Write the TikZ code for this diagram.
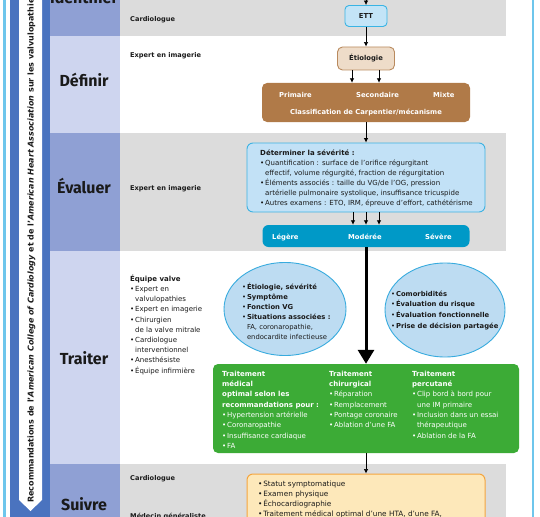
\documentclass[tikz,border=0pt]{standalone}
\usepackage{fontspec}
\setmainfont{DejaVu Sans}
\newfontfamily\titlefont{Fira Sans}
\usepackage{xcolor}
\usetikzlibrary{shapes,arrows,arrows.meta,positioning}

\definecolor{lineblue}{HTML}{6EC6EC}
\definecolor{bandblue}{HTML}{4A73BF}
\definecolor{labdark}{HTML}{8FA0D4}
\definecolor{labpale}{HTML}{CED5EF}
\definecolor{rowgray}{HTML}{DCDCDC}
\definecolor{ettfill}{HTML}{C3E4F7}
\definecolor{ettdraw}{HTML}{3AB4E4}
\definecolor{etiofill}{HTML}{EEDCC9}
\definecolor{etiodraw}{HTML}{B98A5E}
\definecolor{classbrown}{HTML}{B07A48}
\definecolor{sevfill}{HTML}{C2E1F6}
\definecolor{sevdraw}{HTML}{3DB2E2}
\definecolor{sevbar}{HTML}{0099C7}
\definecolor{ellfill}{HTML}{BDDCF2}
\definecolor{elldraw}{HTML}{38ABDE}
\definecolor{traitgreen}{HTML}{3CAB36}
\definecolor{yelfill}{HTML}{FDE8BA}
\definecolor{yeldraw}{HTML}{F4A53F}
\definecolor{ink}{HTML}{1A1A1A}

\newcommand{\bul}{\textbullet\hspace{0.8pt}}
\newcommand{\bulind}{\phantom{\textbullet}\hspace{0.8pt}}
\newcommand{\fl}{\rule{0pt}{7pt}}

\begin{document}
\begin{tikzpicture}[x=1pt, y=-1pt,
    every node/.style={inner sep=0pt, text=ink},
    title/.style={anchor=base, font=\titlefont\fontsize{16}{16}\selectfont\bfseries},
    who/.style={anchor=base west, font=\fontsize{6.6}{9}\selectfont\bfseries},
    list/.style={anchor=north west, align=left, font=\fontsize{7}{10}\selectfont},
    lab/.style={anchor=base west, text=white, font=\fontsize{6.8}{7}\selectfont\bfseries},
    arr/.style={-{Latex[length=4.5pt,width=4.5pt]}, line width=0.7pt}]
\useasboundingbox (0,0) rectangle (540,516);

% side bands
\fill[lineblue] (3,-5) rectangle (5.5,521);
\fill[lineblue] (531.5,-5) rectangle (534,521);
\fill[bandblue] (10,-5) rectangle (50,521);
\fill[white] (19,-5) -- (42,-5) -- (42,500) -- (30.5,511) -- (19,500) -- cycle;

% rows
\fill[labdark] (50,-5) rectangle (120,36);
\fill[labpale] (50,36) rectangle (120,133);
\fill[labdark] (50,133) rectangle (120,251);
\fill[labpale] (50,251) rectangle (120,464);
\fill[labdark] (50,464) rectangle (120,521);
\fill[rowgray] (120,-5) rectangle (506,36);
\fill[rowgray] (120,133) rectangle (506,251);
\fill[rowgray] (120,464) rectangle (506,521);

\node[rotate=90, anchor=base west, font=\fontsize{8}{8}\selectfont\bfseries] (reco) at (33.5,503)
    {Recommandations de l'\textit{American College of Cardiology} et de l'\textit{American Heart Association} sur les valvulopathies};

% row titles and actors
\node[title] (identifier) at (84,4) {Identifier};
\node[title] (definir) at (84,87) {Définir};
\node[title] (evaluer) at (84,193) {Évaluer};
\node[title] (traiter) at (84,364) {Traiter};
\node[title] (suivre) at (84,510) {Suivre};

\node[who] (cardio1) at (130,22) {Cardiologue};
\node[who] (imag1) at (130,58) {Expert en imagerie};
\node[who] (imag2) at (130,190) {Expert en imagerie};
\node[who] (cardio2) at (130,480) {Cardiologue};
\node[who] (mg) at (130,518.5) {Médecin généraliste};
\node[list, font=\fontsize{7}{10.2}\selectfont] (equipe) at (130,274) {\fl\textbf{Équipe valve}\\
    \bul Expert en\\ \bulind valvulopathies\\ \bul Expert en imagerie\\
    \bul Chirurgien\\ \bulind de la valve mitrale\\ \bul Cardiologue\\
    \bulind interventionnel\\ \bul Anesthésiste\\ \bul Équipe infirmière};

% flow
\coordinate (start) at (366,-3);
\node[rectangle, draw=ettdraw, line width=0.9pt, fill=ettfill, rounded corners=4pt,
    minimum width=42, minimum height=21, font=\fontsize{6.8}{7}\selectfont\bfseries] (ett) at (366,16) {ETT};
\node[rectangle, draw=etiodraw, line width=0.9pt, fill=etiofill, rounded corners=5pt,
    minimum width=57, minimum height=23, font=\fontsize{6.8}{7}\selectfont\bfseries] (etio) at (366,58.5) {Étiologie};
\node[rectangle, fill=classbrown, rounded corners=5pt, minimum width=208, minimum height=39] (classif) at (366,102.5) {};
\node[lab] (prim) at (279,98) {Primaire};
\node[lab] (second) at (356,98) {Secondaire};
\node[lab] (mixte) at (433,98) {Mixte};
\node[lab, anchor=base] (carp) at (366,114) {Classification de Carpentier/mécanisme};

\node[rectangle, draw=sevdraw, line width=0.9pt, fill=sevfill, rounded corners=6pt,
    minimum width=238, minimum height=69] (sev) at (366,177.5) {};
\node[list] (sevtxt) at (260,148) {\fl\textbf{Déterminer la sévérité :}\\
    \bul Quantification : surface de l'orifice régurgitant\\
    \bulind effectif, volume régurgité, fraction de régurgitation\\
    \bul Éléments associés : taille du VG/de l'OG, pression\\
    \bulind artérielle pulmonaire systolique, insuffisance tricuspide\\
    \bul Autres examens : ETO, IRM, épreuve d'effort, cathétérisme};
\node[rectangle, fill=sevbar, rounded corners=6pt, minimum width=207, minimum height=22] (grade) at (366,236) {};
\node[lab] (legere) at (272,239) {Légère};
\node[lab] (moderee) at (348,239) {Modérée};
\node[lab] (severe) at (425,239) {Sévère};

\node[ellipse, draw=elldraw, line width=0.9pt, fill=ellfill, minimum width=122, minimum height=93] (patient) at (285,309) {};
\node[ellipse, draw=elldraw, line width=0.9pt, fill=ellfill, minimum width=120, minimum height=94] (risque) at (445,310) {};
\node[list, font=\fontsize{6.8}{10}\selectfont] (patxt) at (242,282) {\fl\bul\textbf{Étiologie, sévérité}\\ \bul\textbf{Symptôme}\\
    \bul\textbf{Fonction VG}\\ \bul\textbf{Situations associées :}\\
    \bulind FA, coronaropathie,\\ \bulind endocardite infectieuse};
\node[list, font=\fontsize{6.8}{10.6}\selectfont] (rstxt) at (391,289) {\fl\bul\textbf{Comorbidités}\\
    \bul\textbf{Évaluation du risque}\\ \bul\textbf{Évaluation fonctionnelle}\\ \bul\textbf{Prise de décision partagée}};

\node[rectangle, fill=traitgreen, rounded corners=5pt, minimum width=306, minimum height=89] (trait) at (366,408.5) {};
\node[list, text=white, font=\fontsize{7}{10.3}\selectfont] (medic) at (222,369) {\fl\textbf{Traitement}\\
    \textbf{médical}\\ \textbf{optimal selon les}\\ \textbf{recommandations pour :}\\
    \bul Hypertension artérielle\\ \bul Coronaropathie\\ \bul Insuffisance cardiaque\\ \bul FA};
\node[list, text=white, font=\fontsize{7}{10.3}\selectfont] (chir) at (329,369) {\fl\textbf{Traitement}\\
    \textbf{chirurgical}\\ \bul Réparation\\ \bul Remplacement\\ \bul Pontage coronaire\\ \bul Ablation d'une FA};
\node[list, text=white, font=\fontsize{7}{10.3}\selectfont] (percu) at (412,369) {\fl\textbf{Traitement}\\
    \textbf{percutané}\\ \bul Clip bord à bord pour\\ \bulind une IM primaire\\
    \bul Inclusion dans un essai\\ \bulind thérapeutique\\ \bul Ablation de la FA};

\node[rectangle, draw=yeldraw, line width=1pt, fill=yelfill, rounded corners=6pt,
    minimum width=238, minimum height=60] (suivi) at (366,504) {};
\node[list, font=\fontsize{7.3}{10}\selectfont] (suivitxt) at (258,479) {\fl\bul Statut symptomatique\\
    \bul Examen physique\\ \bul Échocardiographie\\ \bul Traitement médical optimal d'une HTA, d'une FA,};

\draw[arr] (start) -- (ett);
\draw[arr] (ett) -- (etio);
\draw[arr] ([xshift=-14pt]etio.south) -- ([xshift=-14pt]classif.north);
\draw[arr] ([xshift=13pt]etio.south) -- ([xshift=13pt]classif.north);
\draw[arr] (classif) -- (sev);
\foreach \dx in {-13,0,13}
    \draw[arr] ([xshift=\dx pt]sev.south) -- ([xshift=\dx pt]grade.north);
\draw[line width=3pt, -{Triangle[length=14pt,width=16pt]}] (grade) -- (trait);
\draw[arr] (trait) -- (suivi);
\end{tikzpicture}
\end{document}
